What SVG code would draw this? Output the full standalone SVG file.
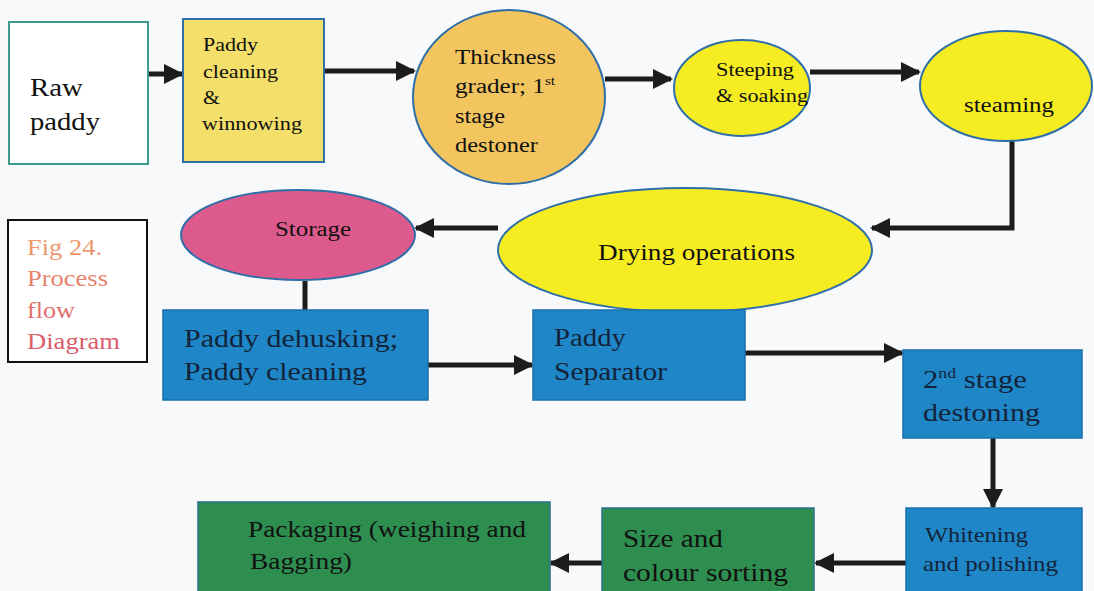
<svg xmlns="http://www.w3.org/2000/svg" width="1094" height="591" viewBox="0 0 1094 591">
<defs>
<marker id="ah" viewBox="0 0 10 10" refX="9" refY="5" markerWidth="4" markerHeight="4" markerUnits="strokeWidth" orient="auto">
<path d="M0,0 L10,5 L0,10 z" fill="#1c1c1c"/>
</marker>
<linearGradient id="figg" gradientUnits="userSpaceOnUse" x1="0" y1="232" x2="0" y2="352">
<stop offset="0" stop-color="#f0a06c"/>
<stop offset="1" stop-color="#d8586c"/>
</linearGradient>
<style>
text{font-family:'Liberation Serif','DejaVu Serif',serif}
.t{fill:#111}
.c{stroke:#1c1c1c;stroke-width:5;fill:none}
.ca{stroke:#1c1c1c;stroke-width:5;fill:none;marker-end:url(#ah)}
.yel{fill:#f6ec22;stroke:#2f6fa8;stroke-width:2}
.blue{fill:#1f87c7;stroke:#1a6fa8;stroke-width:1.5}
.green{fill:#2e8e4f;stroke:#2a6f8f;stroke-width:1.5}
.dk{fill:#13243a}
.fig{fill:url(#figg);font-size:24px}
</style>
</defs>
<rect width="1094" height="591" fill="#f8f9fa"/>
<g id="connectors">
<path class="ca" d="M148,74 H182"/>
<path class="ca" d="M324,71 H414"/>
<path class="ca" d="M605,79 H671"/>
<path class="ca" d="M810,72 H919"/>
<path class="ca" d="M1012,138 V228 H872"/>
<path class="ca" d="M498,228 H416"/>
<path class="c" d="M305,281 V310"/>
<path class="ca" d="M428,365 H532"/>
<path class="ca" d="M745,353 H902"/>
<path class="ca" d="M993,438 V507"/>
<path class="ca" d="M906,563 H816"/>
<path class="ca" d="M602,563 H551"/>
</g>
<g id="raw-paddy">
<rect x="9" y="22" width="139" height="142" fill="#fff" stroke="#3f9a8e" stroke-width="2"/>
<text class="t" x="30" y="96" font-size="26" textLength="53" lengthAdjust="spacingAndGlyphs">Raw</text>
<text class="t" x="30" y="130" font-size="26" textLength="70" lengthAdjust="spacingAndGlyphs">paddy</text>
</g>
<g id="paddy-cleaning">
<rect x="183" y="19" width="141" height="143" fill="#f3df69" stroke="#2f6fa8" stroke-width="2"/>
<text class="t" x="203" y="51" font-size="19" textLength="55" lengthAdjust="spacingAndGlyphs">Paddy</text>
<text class="t" x="203" y="78" font-size="19" textLength="75" lengthAdjust="spacingAndGlyphs">cleaning</text>
<text class="t" x="203" y="104" font-size="19" textLength="17" lengthAdjust="spacingAndGlyphs">&amp;</text>
<text class="t" x="202" y="130" font-size="19" textLength="100" lengthAdjust="spacingAndGlyphs">winnowing</text>
</g>
<g id="thickness-grader">
<ellipse cx="509" cy="97" rx="96" ry="87" fill="#f3c55f" stroke="#2f6fa8" stroke-width="2"/>
<text class="t" x="455" y="64" font-size="20" textLength="101" lengthAdjust="spacingAndGlyphs">Thickness</text>
<text class="t" x="455" y="93" font-size="20" textLength="100" lengthAdjust="spacingAndGlyphs">grader; 1<tspan font-size="12" dy="-8">st</tspan></text>
<text class="t" x="455" y="123" font-size="20" textLength="50" lengthAdjust="spacingAndGlyphs">stage</text>
<text class="t" x="455" y="152" font-size="20" textLength="83" lengthAdjust="spacingAndGlyphs">destoner</text>
</g>
<g id="steeping">
<ellipse cx="742" cy="88" rx="68" ry="48" class="yel"/>
<text class="t" x="716" y="76" font-size="19" textLength="78" lengthAdjust="spacingAndGlyphs">Steeping</text>
<text class="t" x="716" y="102" font-size="19" textLength="92" lengthAdjust="spacingAndGlyphs">&amp; soaking</text>
</g>
<g id="steaming">
<ellipse cx="1006" cy="86" rx="86" ry="55" class="yel"/>
<text class="t" x="964" y="112" font-size="20" textLength="90" lengthAdjust="spacingAndGlyphs">steaming</text>
</g>
<g id="drying">
<ellipse cx="685" cy="250" rx="187" ry="62" class="yel"/>
<text class="t" x="598" y="260" font-size="24" textLength="197" lengthAdjust="spacingAndGlyphs">Drying operations</text>
</g>
<g id="storage">
<ellipse cx="298" cy="235" rx="117" ry="45" fill="#dd5a8c" stroke="#2f6fa8" stroke-width="2"/>
<text class="t" x="275" y="236" font-size="20" textLength="76" lengthAdjust="spacingAndGlyphs">Storage</text>
</g>
<g id="fig-label">
<rect x="8" y="220" width="139" height="142" fill="#fff" stroke="#111" stroke-width="2"/>
<text class="fig" x="27" y="255" textLength="75" lengthAdjust="spacingAndGlyphs">Fig 24.</text>
<text class="fig" x="27" y="286" textLength="81" lengthAdjust="spacingAndGlyphs">Process</text>
<text class="fig" x="27" y="318" textLength="48" lengthAdjust="spacingAndGlyphs">flow</text>
<text class="fig" x="27" y="349" textLength="93" lengthAdjust="spacingAndGlyphs">Diagram</text>
</g>
<g id="dehusking">
<rect x="163" y="310" width="265" height="90" class="blue"/>
<text class="t dk" x="184" y="347" font-size="26" textLength="214" lengthAdjust="spacingAndGlyphs">Paddy dehusking;</text>
<text class="t dk" x="184" y="380" font-size="26" textLength="183" lengthAdjust="spacingAndGlyphs">Paddy cleaning</text>
</g>
<g id="separator">
<rect x="533" y="310" width="212" height="90" class="blue"/>
<text class="t dk" x="554" y="346" font-size="26" textLength="72" lengthAdjust="spacingAndGlyphs">Paddy</text>
<text class="t dk" x="554" y="380" font-size="26" textLength="113" lengthAdjust="spacingAndGlyphs">Separator</text>
</g>
<g id="destoning">
<rect x="903" y="350" width="179" height="88" class="blue"/>
<text class="t dk" x="923" y="388" font-size="26" textLength="104" lengthAdjust="spacingAndGlyphs">2<tspan font-size="15" dy="-10">nd</tspan><tspan dy="10"> stage</tspan></text>
<text class="t dk" x="923" y="421" font-size="26" textLength="117" lengthAdjust="spacingAndGlyphs">destoning</text>
</g>
<g id="whitening">
<rect x="906" y="508" width="176" height="90" class="blue"/>
<text class="t dk" x="925" y="542" font-size="21" textLength="103" lengthAdjust="spacingAndGlyphs">Whitening</text>
<text class="t dk" x="923" y="571" font-size="21" textLength="135" lengthAdjust="spacingAndGlyphs">and polishing</text>
</g>
<g id="sorting">
<rect x="602" y="508" width="212" height="90" class="green"/>
<text class="t" x="623" y="547" font-size="25" textLength="100" lengthAdjust="spacingAndGlyphs">Size and</text>
<text class="t" x="623" y="581" font-size="25" textLength="165" lengthAdjust="spacingAndGlyphs">colour sorting</text>
</g>
<g id="packaging">
<rect x="198" y="502" width="352" height="96" class="green"/>
<text class="t" x="248" y="537" font-size="23" textLength="278" lengthAdjust="spacingAndGlyphs">Packaging (weighing and</text>
<text class="t" x="250" y="569" font-size="23" textLength="102" lengthAdjust="spacingAndGlyphs">Bagging)</text>
</g>
</svg>
